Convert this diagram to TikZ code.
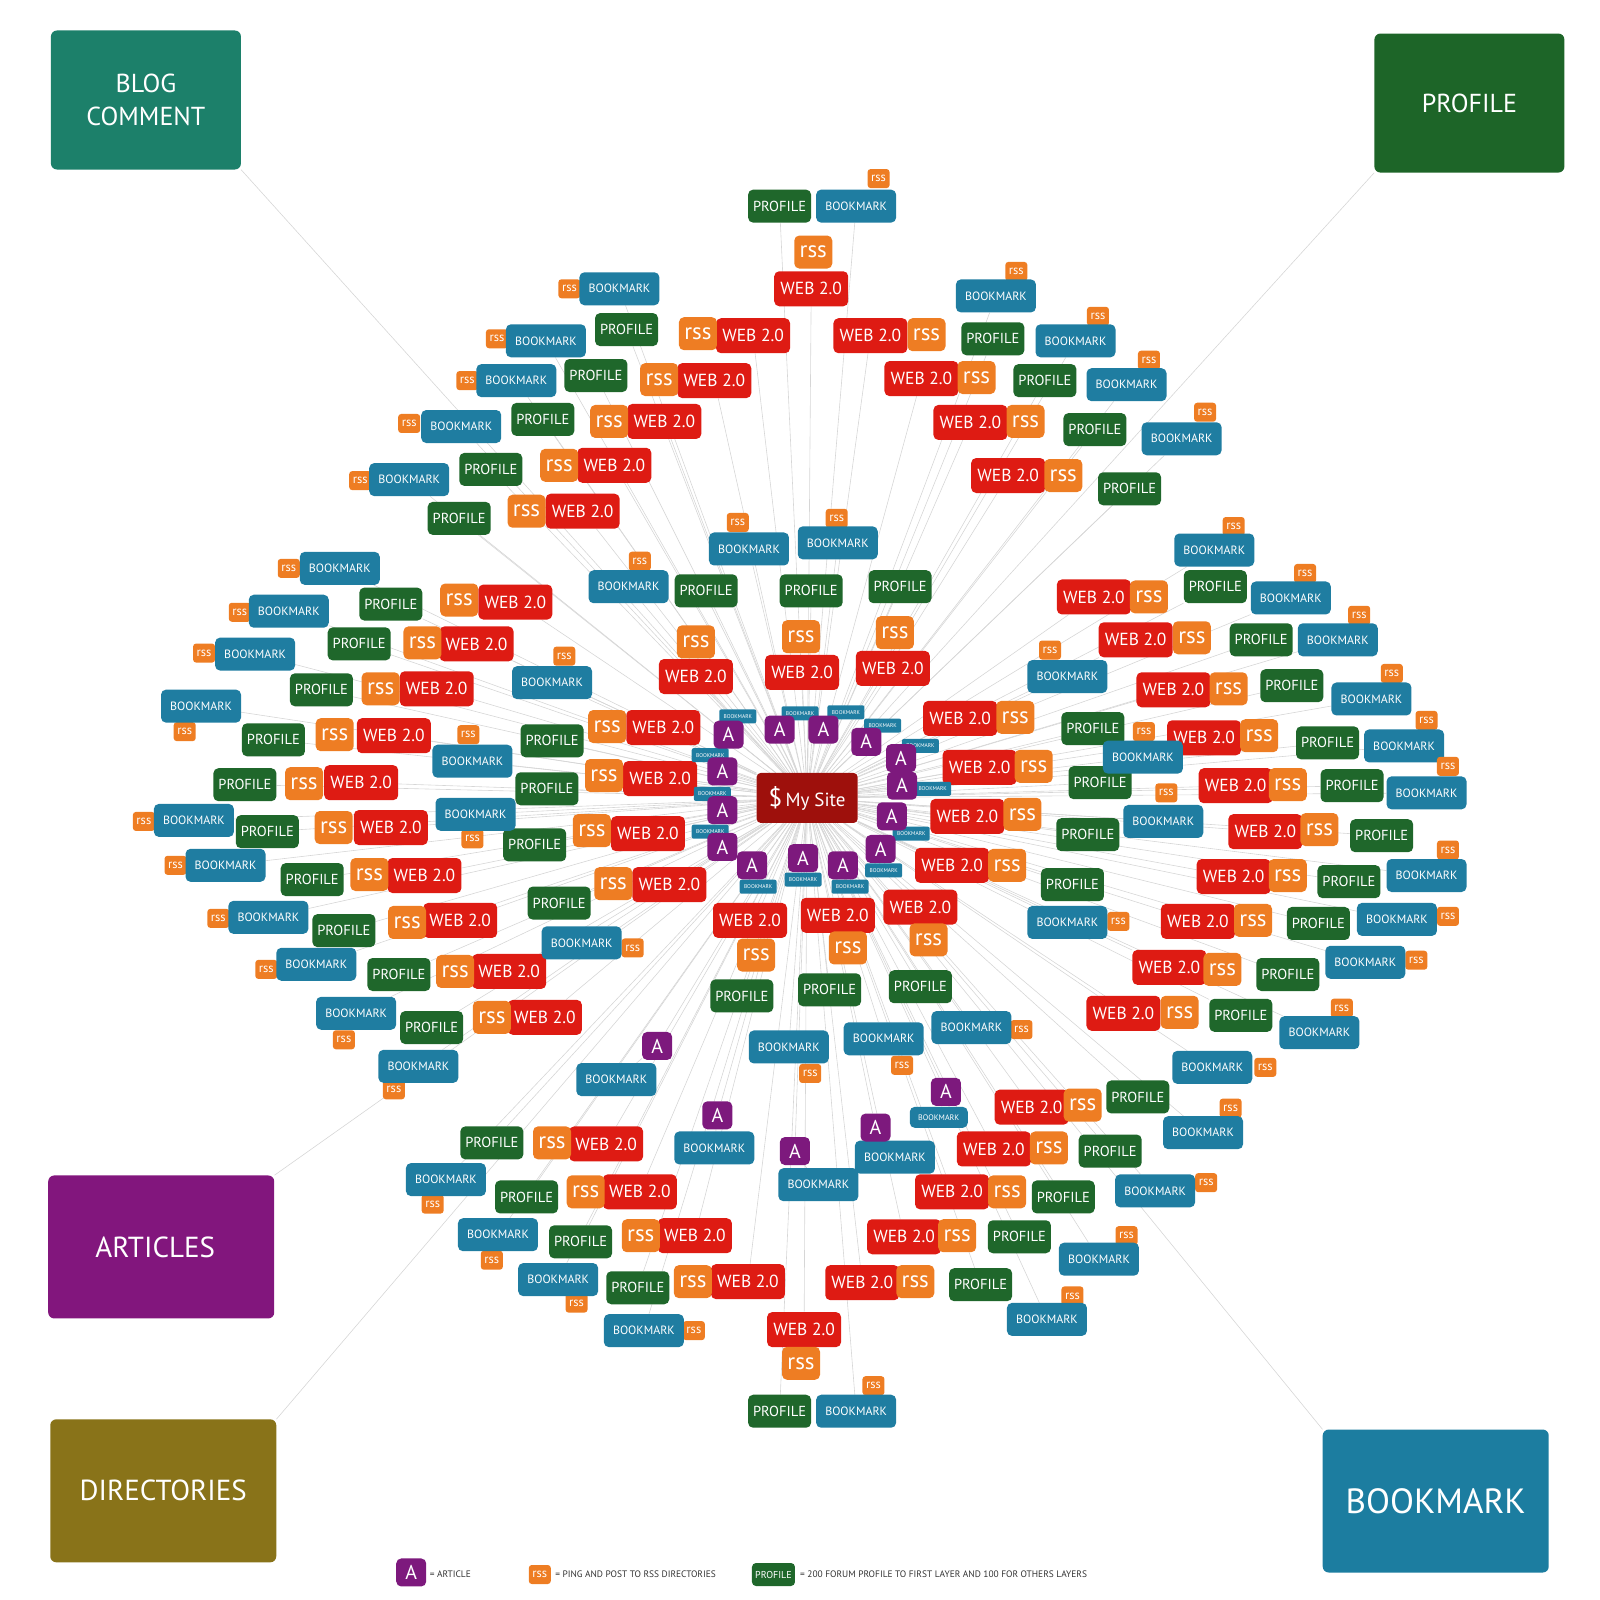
\documentclass[tikz,border=0pt]{standalone}
\usepackage{fontspec}
\setmainfont{PT Sans}
\usetikzlibrary{backgrounds}
\definecolor{cweb}{RGB}{222,27,19}
\definecolor{crss}{RGB}{238,125,35}
\definecolor{cprof}{RGB}{31,103,43}
\definecolor{cbm}{RGB}{31,125,161}
\definecolor{cart}{RGB}{125,25,125}
\definecolor{csite}{RGB}{158,16,12}
\definecolor{clink}{RGB}{214,214,214}
\definecolor{cblog}{RGB}{28,128,106}
\definecolor{cbprof}{RGB}{29,101,40}
\definecolor{cbart}{RGB}{130,22,125}
\definecolor{cbdir}{RGB}{137,115,25}
\definecolor{cbbm}{RGB}{28,125,160}
\begin{document}
\begin{tikzpicture}[x=1.0204pt,y=-1.0204pt,
  box/.style={rounded corners=5pt, inner sep=0pt, text=white, align=center},
  web/.style={box, fill=cweb, minimum width=74pt, minimum height=35pt, font=\fontsize{17.5}{17.5}\selectfont},
  brss/.style={box, fill=crss, minimum width=38pt, minimum height=33pt, font=\fontsize{23}{23}\selectfont},
  prof/.style={box, fill=cprof, minimum width=63pt, minimum height=33pt, font=\fontsize{14.5}{14.5}\selectfont},
  bm/.style={box, fill=cbm, minimum width=80pt, minimum height=33pt, font=\fontsize{12}{12}\selectfont},
  smallbm/.style={box, fill=cbm, minimum width=58pt, minimum height=21pt, font=\fontsize{8}{8}\selectfont},
  srss/.style={box, rounded corners=3pt, fill=crss, minimum width=22pt, minimum height=19pt, font=\fontsize{12.5}{12.5}\selectfont},
  art/.style={box, fill=cart, minimum width=30pt, minimum height=28pt, font=\fontsize{20}{20}\selectfont},
  tbm/.style={box, rounded corners=2pt, fill=cbm, minimum width=37pt, minimum height=14pt, font=\fontsize{5.5}{5.5}\selectfont},
  bigbox/.style={rounded corners=6pt, inner sep=0pt, text=white, align=center},
  link/.style={draw=clink, line width=0.6pt},
  legtext/.style={anchor=west, inner sep=0pt, text=black!80, font=\fontsize{9.4}{9.4}\selectfont},
]
\useasboundingbox (0,0) rectangle (1568,1568);

% centre
\node[box, rounded corners=4pt, fill=csite, minimum width=101pt, minimum height=50pt, font=\fontsize{19}{19}\selectfont] (site) at (791,782) {{\fontsize{25}{25}\selectfont\$}\,My Site};

% corner boxes
\node[bigbox, fill=cblog, minimum width=190pt, minimum height=139pt, font=\fontsize{26}{33}\selectfont] (blog) at (143,98) {BLOG\\COMMENT};
\node[bigbox, fill=cbprof, minimum width=190pt, minimum height=139pt, font=\fontsize{26}{30}\selectfont] (bprof) at (1440,101) {PROFILE};
\node[bigbox, fill=cbart, minimum width=226pt, minimum height=143pt, font=\fontsize{29}{30}\selectfont] (bart) at (158,1222) {ARTICLES\hspace*{12pt}};
\node[bigbox, fill=cbdir, minimum width=226pt, minimum height=143pt, font=\fontsize{29}{30}\selectfont] (bdir) at (160,1461) {DIRECTORIES};
\node[bigbox, fill=cbbm, minimum width=226pt, minimum height=143pt, font=\fontsize{35}{36}\selectfont] (bbm) at (1407,1471) {BOOKMARK};
\begin{scope}[on background layer]
\draw[link] (blog.south east) -- (site);
\draw[link] (bprof.south west) -- (site);
\draw[link] (bart.north east) -- (site);
\draw[link] (bdir.north east) -- (site);
\draw[link] (bbm.north west) -- (site);
\end{scope}

% WEB 2.0
\foreach \x/\y [count=\i] in {795/283, 738/329, 700/373, 651/413, 602/456, 571/501, 853/329, 903/371, 951/414, 988/466, 682/663, 786/659, 875/655, 505/590, 467/631, 428/675, 386/721, 650/713, 354/767, 647/763, 383/811, 635/817, 416/858, 656/867, 451/902, 499/952, 534/997, 1072/585, 1113/627, 1150/676, 941/704, 1180/723, 960/752, 1211/770, 948/800, 1240/815, 933/848, 1209/859, 1174/903, 1146/948, 1101/993, 735/902, 821/897, 902/889, 1011/1085, 974/1126, 933/1168, 886/1212, 845/1257, 594/1121, 627/1168, 681/1211, 733/1256, 788/1303}
{\node[web] (w\i) at (\x,\y) {WEB 2.0};
 \begin{pgfonlayer}{background}\draw[link] (site) -- (w\i);\end{pgfonlayer}}

% big rss
\foreach \x/\y [count=\i] in {797/247, 684/327, 646/372, 597/413, 548/456, 516/501, 908/328, 957/370, 1005/413, 1042/466, 682/629, 785/624, 877/620, 450/588, 414/630, 373/675, 328/720, 595/712, 298/768, 592/760, 327/811, 580/814, 362/857, 601/866, 399/904, 446/952, 482/997, 1126/585, 1168/625, 1204/675, 995/703, 1234/721, 1013/751, 1262/769, 1002/798, 1293/813, 987/848, 1262/858, 1228/902, 1198/950, 1156/992, 741/936, 831/929, 910/921, 1061/1083, 1028/1125, 987/1168, 938/1211, 897/1256, 541/1120, 574/1168, 628/1211, 679/1256, 785/1336}
{\node[brss] (g\i) at (\x,\y) {rss};}

% PROFILE
\foreach \x/\y [count=\i] in {764/202, 614/323, 584/368, 532/411, 481/460, 450/508, 973/332, 1024/373, 1073/421, 1107/479, 692/579, 795/579, 882/575, 383/592, 352/631, 315/676, 268/725, 541/726, 240/769, 536/773, 262/815, 524/828, 306/862, 337/912, 548/885, 391/955, 423/1007, 1191/575, 1236/627, 1266/672, 1071/714, 1301/728, 1078/767, 1325/770, 1066/818, 1354/819, 1051/867, 1322/864, 1292/905, 1262/955, 1216/995, 727/976, 813/970, 902/967, 1115/1075, 1088/1128, 1042/1173, 999/1212, 961/1259, 482/1120, 516/1173, 569/1217, 625/1262, 764/1383}
{\node[prof] (p\i) at (\x,\y) {PROFILE};
 \begin{pgfonlayer}{background}\draw[link] (site) -- (p\i);\end{pgfonlayer}}

% BOOKMARK with small rss
\foreach \x/\y/\u/\v [count=\i] in {839/202/861/175, 607/283/558/283, 535/334/487/332, 506/373/458/373, 452/418/401/415, 401/470/353/471, 976/290/996/266, 1054/334/1076/310, 1104/377/1126/353, 1158/430/1181/404, 734/538/723/512, 821/532/820/508, 616/575/627/550, 541/669/553/643, 333/557/283/557, 283/599/235/600, 250/641/200/640, 197/692/181/717, 463/746/459/720, 190/804/141/805, 466/798/463/822, 221/848/172/848, 263/899/214/900, 570/924/620/929, 310/945/261/950, 349/993/337/1019, 410/1045/386/1068, 1190/539/1209/516, 1265/586/1279/562, 1311/627/1332/603, 1046/663/1029/637, 1344/685/1364/660, 1120/742/1121/717, 1376/731/1398/706, 1140/805/1143/777, 1398/777/1419/751, 1398/858/1419/833, 1046/904/1096/903, 1369/901/1419/898, 1338/943/1388/941, 1293/1012/1315/988, 1188/1046/1240/1046, 773/1026/794/1052, 866/1018/884/1044, 952/1007/1001/1009, 1179/1110/1206/1086, 1132/1167/1182/1159, 1077/1234/1104/1211, 1026/1293/1051/1270, 437/1156/424/1180, 488/1210/482/1235, 547/1254/565/1277, 631/1304/680/1304, 839/1383/856/1358}
{\node[srss] (r\i) at (\u,\v) {rss};
 \node[bm] (b\i) at (\x,\y) {BOOKMARK};
 \begin{pgfonlayer}{background}\draw[link] (site) -- (b\i);\end{pgfonlayer}}

% outer articles with bookmarks
\foreach \x/\y/\u/\v [count=\i] in {644/1025/604/1058, 703/1093/700/1125, 779/1128/802/1161, 858/1105/877/1134}
{\node[bm] (ab\i) at (\u,\v) {BOOKMARK};
 \node[art] (a\i) at (\x,\y) {A};
 \begin{pgfonlayer}{background}\draw[link] (site) -- (a\i); \draw[link] (a\i) -- (ab\i);\end{pgfonlayer}}
\node[smallbm] (ab5) at (920,1095) {BOOKMARK};
\node[art] (a5) at (927,1070) {A};
\begin{scope}[on background layer]
\draw[link] (site) -- (a5);
\draw[link] (a5) -- (ab5);
\end{scope}

% inner ring of articles with tiny bookmarks
\foreach \x/\y [count=\i] in {723/702, 784/699, 829/698, 865/711, 902/731, 914/773, 893/817, 866/853, 833/869, 787/862, 743/869, 696/815, 698/778, 696/740}
{\node[tbm] (tb\i) at (\x,\y) {BOOKMARK};}
\foreach \x/\y [count=\i] in {714/720, 764/715, 807/715, 849/727, 883/743, 884/770, 874/800, 863/832, 826/848, 787/841, 737/848, 708/830, 708/794, 708/756}
{\node[art] (ia\i) at (\x,\y) {A};
 \begin{pgfonlayer}{background}\draw[link] (site) -- (ia\i);\end{pgfonlayer}}

% legend
\node[art] (la) at (403,1541) {A};
\node[legtext] (lat) at (421,1543) {= ARTICLE};
\node[srss] (lr) at (529,1543) {rss};
\node[legtext] (lrt) at (544,1543) {= PING AND POST TO RSS DIRECTORIES};
\node[prof, rounded corners=4pt, minimum width=43pt, minimum height=23pt, font=\fontsize{10}{10}\selectfont] (lp) at (758,1543) {PROFILE};
\node[legtext] (lpt) at (784,1543) {= 200 FORUM PROFILE TO FIRST LAYER AND 100 FOR OTHERS LAYERS};
\end{tikzpicture}
\end{document}
